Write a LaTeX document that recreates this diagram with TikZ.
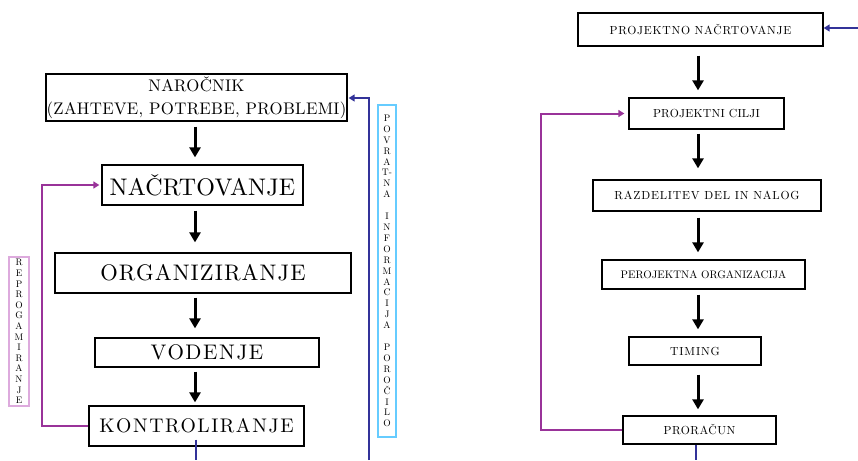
\documentclass[tikz,border=0pt]{standalone}
\usepackage{fontspec}
\setmainfont{lmroman10-regular.otf}
\usetikzlibrary{arrows.meta}
\definecolor{loopc}{HTML}{993399}
\definecolor{backc}{HTML}{333399}
\definecolor{infoc}{HTML}{66CCFF}
\definecolor{reprc}{HTML}{DDAADD}
\newcommand{\spaced}[1]{\addfontfeatures{LetterSpace=#1}}
\begin{document}
\begin{tikzpicture}[x=1pt,y=-1pt,
  stage/.style={draw=black,line width=1.3pt,inner sep=0pt,align=center},
  flow/.style={line width=3pt,-{Triangle[width=11pt,length=10pt]},black},
  loopline/.style={line width=2pt,loopc},
  backline/.style={line width=2pt,backc},
  looparrow/.style={loopline,-{Triangle[width=7pt,length=6pt]}},
  backarrow/.style={backline,-{Triangle[width=7pt,length=6pt]}},
  vbox/.style={line width=1.2pt,inner sep=0pt,align=center,font=\fontsize{9.5}{10.6}\selectfont}]
\useasboundingbox (0,0) rectangle (858,460);

% left process chain
\node[stage,minimum width=301,minimum height=47,font=\fontsize{16.8}{23}\selectfont\spaced{1.8}]
  (nar) at (196.5,97.5) {NAROČNIK\\(ZAHTEVE, POTREBE, PROBLEMI)};
\node[stage,minimum width=201,minimum height=40,font=\fontsize{24}{28}\selectfont\spaced{0.8}]
  (nac) at (202.5,185) {NAČRTOVANJE};
\node[stage,minimum width=296,minimum height=40,font=\fontsize{22.5}{28}\selectfont\spaced{4.9}]
  (org) at (203,273) {ORGANIZIRANJE};
\node[stage,minimum width=224,minimum height=29,font=\fontsize{21.1}{26}\selectfont\spaced{7.4}]
  (vod) at (207,352.5) {VODENJE};
\node[stage,minimum width=215,minimum height=40,font=\fontsize{19.7}{26}\selectfont\spaced{7.8}]
  (kon) at (196.5,426) {KONTROLIRANJE};

\coordinate (lx) at (195,0);
\draw[flow,shorten <=5pt,shorten >=7pt] (nar.south -| lx) -- (nac.north -| lx);
\draw[flow,shorten <=5pt,shorten >=10pt] (nac.south -| lx) -- (org.north -| lx);
\draw[flow,shorten <=4pt,shorten >=9pt] (org.south -| lx) -- (vod.north -| lx);
\draw[flow,shorten <=4pt,shorten >=3pt] (vod.south -| lx) -- (kon.north -| lx);

% reprogramming loop
\coordinate (lloop) at (42,0);
\draw[looparrow,shorten >=2pt] (kon.west) -- (kon.west -| lloop) -- (nac.west -| lloop) -- (nac.west);

% feedback line
\coordinate (lback) at (369,98);
\coordinate (lbottom) at (369,460);
\draw[backarrow,shorten >=1pt] (lbottom) -- (lback) -- (lback -| nar.east);
\coordinate (kbottom) at (196,460);
\draw[backline] ([yshift=7pt]kon.south -| kbottom) -- (kbottom);

% vertical labels
\node[vbox,draw=reprc,minimum width=20,minimum height=149] (repr) at (19,331.5)
  {R\\E\\P\\R\\O\\G\\A\\M\\I\\R\\A\\N\\J\\E};
\node[vbox,draw=infoc,minimum width=18,minimum height=332,font=\fontsize{9.5}{10.9}\selectfont] (info) at (387,271)
  {P\\O\\V\\R\\A\\T-\\N\\A\\[11pt]I\\N\\F\\O\\R\\M\\A\\C\\I\\J\\A\\[11pt]P\\O\\R\\O\\Č\\I\\L\\O};

% right process chain
\node[stage,minimum width=245,minimum height=33,font=\fontsize{11.7}{14}\selectfont\spaced{6.1}]
  (pn) at (700.5,29.5) {PROJEKTNO NAČRTOVANJE};
\node[stage,minimum width=155,minimum height=31,font=\fontsize{11.7}{14}\selectfont\spaced{1.9}]
  (pc) at (706.5,113.5) {PROJEKTNI CILJI};
\node[stage,minimum width=228,minimum height=31,font=\fontsize{11.7}{14}\selectfont\spaced{6.7}]
  (rd) at (707,195.5) {RAZDELITEV DEL IN NALOG};
\node[stage,minimum width=203,minimum height=29,font=\fontsize{10.9}{14}\selectfont]
  (po) at (703.5,274.5) {PEROJEKTNA ORGANIZACIJA};
\node[stage,minimum width=132,minimum height=28,font=\fontsize{11.7}{14}\selectfont\spaced{7.1}]
  (ti) at (695,351) {TIMING};
\node[stage,minimum width=153,minimum height=28,font=\fontsize{11.7}{14}\selectfont\spaced{4.3}]
  (pr) at (699.5,430) {PRORAČUN};

\coordinate (rx) at (698,0);
\draw[flow,shorten <=9pt,shorten >=7pt] (pn.south -| rx) -- (pc.north -| rx);
\draw[flow,shorten <=4pt,shorten >=11pt] (pc.south -| rx) -- (rd.north -| rx);
\draw[flow,shorten <=6pt,shorten >=7pt] (rd.south -| rx) -- (po.north -| rx);
\draw[flow,shorten <=5pt,shorten >=7pt] (po.south -| rx) -- (ti.north -| rx);
\draw[flow,shorten <=9pt,shorten >=6pt] (ti.south -| rx) -- (pr.north -| rx);

\coordinate (rloop) at (541,0);
\draw[looparrow,shorten >=4pt] (pr.west) -- (pr.west -| rloop) -- (pc.west -| rloop) -- (pc.west);

\coordinate (rin) at (858,28);
\draw[backarrow] (rin) -- (rin -| pn.east);
\coordinate (pbottom) at (696,460);
\draw[backline] (pr.south -| pbottom) -- (pbottom);
\end{tikzpicture}
\end{document}
